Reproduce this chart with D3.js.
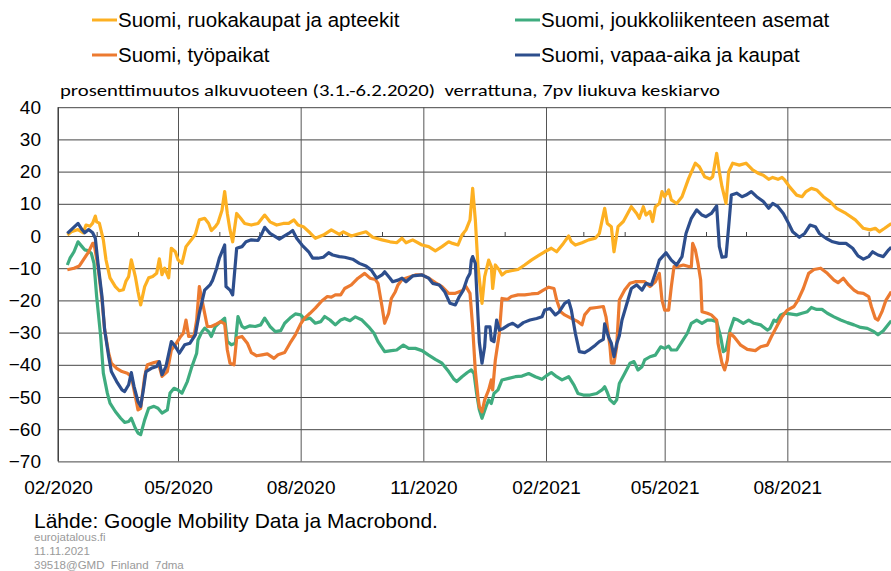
<!DOCTYPE html>
<html>
<head>
<meta charset="utf-8">
<script src="https://cdn.jsdelivr.net/npm/d3@7"></script>
<style>
  body { margin: 0; background: #fff; }
  svg { display: block; font-family: "Liberation Sans", Arial, sans-serif; }
</style>
</head>
<body>
<svg id="chart" width="891" height="571"></svg>
<script>
// päivät laskettu 1.2.2020 alkaen, arvot % muutos
const startDate = new Date(Date.UTC(2020, 1, 1))
const endDate = new Date(Date.UTC(2021, 10, 1))

const seriesNames = [
  'Suomi, ruokakaupat ja apteekit',
  'Suomi, joukkoliikenteen asemat',
  'Suomi, työpaikat',
  'Suomi, vapaa-aika ja kaupat'
]
const seriesColors = ['#FDB022', '#3FAC7F', '#EC7A30', '#2D4E8D']

const groceries = [[7,0.3],[10,1.3],[15,2],[19,1],[21,3.4],[24,3],[26,4],[28,6.2],[29,4.4],[31,4],[34,-1.2],[36,-7.4],[39,-13],[43,-15.7],[46,-17],[49,-16.7],[51,-14],[53,-12.6],[55,-7.4],[58,-12.6],[60,-17.3],[62,-21.4],[65,-15.7],[68,-13],[71,-12.6],[74,-11.6],[76,-7.1],[78,-12],[80,-10],[83,-13],[85,-3.8],[88,-4.9],[90,-7.4],[93,-8.5],[96,-3.3],[100,-1.2],[103,0.5],[106,5],[110,5.5],[113,3.9],[115,1.7],[118,2.9],[120,4.1],[123,8],[125,13.8],[127,7],[129,1.9],[131,-1.8],[134,7],[137,5.5],[140,3.9],[145,3.4],[150,3.9],[155,6.5],[159,4.4],[164,3.4],[169,3.9],[173,3.9],[177,5],[180,3.4],[184,2.9],[189,1],[193,-0.7],[199,0.3],[205,1.9],[211,0.5],[214,1.3],[220,0],[225,0.6],[231,1.3],[236,-0.4],[243,-1.2],[249,-1.8],[254,-2.1],[258,-0.7],[261,-2.1],[266,-1.2],[273,-2.8],[278,-3.3],[283,-4.6],[288,-3.3],[293,-1.8],[296,-2.3],[300,-2.8],[303,0.3],[306,1.9],[309,5],[311,14.8],[313,5],[315,-9.5],[318,-20.9],[320,-12.6],[323,-7.5],[325,-9.5],[326,-16.3],[328,-9],[331,-10.6],[333,-12.1],[336,-11.1],[340,-10.8],[345,-10.4],[350,-9],[355,-7.5],[360,-6.2],[365,-4.9],[370,-3.8],[374,-4.9],[379,-2.3],[383,0],[385,-1.8],[388,-2.8],[393,-2.1],[398,-1.2],[403,-0.7],[406,0.8],[410,8.6],[412,3.9],[415,2.9],[417,-4.9],[420,2.9],[424,4.5],[430,9.1],[434,7],[436,5.5],[439,9.1],[441,6.5],[444,7.6],[446,4.5],[448,9.1],[451,10.1],[453,13.8],[455,12.2],[458,14.3],[460,11.2],[464,10.1],[468,12.2],[473,17.9],[478,22.6],[481,21.5],[485,18.4],[489,17.7],[491,18.4],[494,25.7],[496,20],[498,15.3],[501,10.1],[503,20],[506,22.6],[511,22],[516,22.6],[521,20.5],[525,19.5],[529,18.9],[533,17.6],[536,18.2],[540,17.6],[543,18.2],[545,17.4],[549,15.1],[554,12.7],[558,12.2],[561,13.8],[565,14.8],[569,14.3],[574,12.2],[579,10.7],[584,8.6],[591,7],[598,5],[604,2.4],[609,1.9],[613,2.4],[616,1.3],[620,2.4],[625,3.9]]

const transit = [[7,-9],[9,-6.9],[12,-4.9],[15,-1.8],[18,-3.3],[20,-4.3],[23,-4.6],[25,-5.4],[27,-8.5],[29,-18.8],[32,-31.2],[34,-42.6],[37,-48.8],[39,-51.9],[43,-54.5],[47,-56.6],[50,-57.9],[53,-57.6],[55,-56.6],[58,-59.7],[60,-61.2],[62,-61.7],[65,-57.1],[68,-53.5],[72,-52.9],[75,-53.5],[78,-55],[82,-54],[84,-48.8],[87,-47.3],[90,-47.8],[93,-48.8],[97,-45.2],[100,-41.1],[104,-36.4],[105,-32.3],[108,-29.7],[110,-28.6],[113,-29.7],[115,-31.2],[118,-28.1],[122,-26.6],[125,-25.5],[127,-32.8],[130,-33.8],[133,-33.3],[135,-25],[138,-28.1],[140,-28.6],[144,-27.9],[148,-28.1],[152,-27.6],[155,-25.5],[159,-28.1],[163,-29.7],[167,-29.4],[170,-27.1],[174,-25.5],[178,-24.2],[182,-24.5],[185,-25.9],[189,-25.5],[193,-27.1],[197,-26.6],[200,-25],[204,-26.1],[208,-27.6],[212,-26.1],[215,-25.6],[219,-26.3],[223,-25.1],[228,-26.1],[233,-28.2],[237,-30.2],[240,-32.8],[245,-35.9],[250,-35.6],[254,-35.4],[259,-33.9],[263,-34.9],[268,-34.9],[273,-35.6],[278,-37],[283,-38.3],[288,-39.5],[293,-42.1],[297,-44.5],[299,-45.2],[303,-43.7],[307,-42.4],[310,-41.6],[312,-42.7],[314,-49],[316,-54],[318,-56.6],[321,-53],[323,-50.9],[325,-52],[327,-48.9],[330,-47.8],[333,-44.7],[338,-44.2],[343,-43.7],[348,-43.5],[353,-42.7],[358,-43.7],[363,-44.5],[367,-43.2],[370,-42.4],[374,-43.7],[378,-44.7],[383,-43.7],[387,-46.3],[390,-48.9],[394,-49.4],[399,-49.4],[404,-48.9],[408,-47.8],[410,-46.8],[412,-48.6],[414,-50.9],[417,-52],[419,-50.9],[421,-45.8],[425,-42.7],[429,-39.5],[432,-39],[435,-41.6],[438,-40.6],[440,-38.5],[444,-37.5],[448,-37],[452,-34.4],[455,-34.9],[458,-34.2],[460,-35.4],[464,-35.4],[468,-32.8],[472,-30.2],[475,-27.1],[479,-26.1],[483,-27.1],[487,-26.1],[490,-26.1],[494,-26.6],[497,-31.3],[499,-35.9],[501,-35.4],[504,-29.2],[507,-25.6],[510,-26.1],[514,-27.1],[518,-26.1],[522,-27.1],[527,-27.6],[532,-29.2],[534,-28.7],[537,-26.1],[539,-26.6],[542,-24.5],[545,-24],[549,-24.2],[554,-24.5],[558,-24],[562,-23.5],[565,-22.2],[569,-22.8],[573,-22.8],[577,-24],[582,-25.1],[587,-26.1],[592,-26.9],[597,-27.6],[602,-28.4],[607,-28.7],[612,-29.7],[615,-30.7],[619,-29.4],[623,-27.3],[625,-26.3]]

const workplaces = [[7,-10.5],[12,-10],[16,-9.3],[19,-7.4],[23,-4.9],[26,-2.3],[27,-2.3],[30,-9.5],[33,-19.9],[35,-29.2],[38,-36.4],[40,-39.5],[44,-41.1],[48,-42.1],[52,-42.6],[55,-43.6],[58,-49.8],[60,-54],[62,-53.5],[65,-43.6],[67,-40],[72,-39.3],[75,-39],[78,-43.6],[82,-42.1],[85,-35.4],[88,-33.8],[92,-31.2],[94,-30.2],[96,-26.1],[98,-31.2],[102,-31.2],[104,-26.1],[106,-15.7],[108,-19.9],[110,-24],[112,-28.1],[115,-28.1],[119,-27.3],[122,-26.6],[125,-27.3],[127,-35.4],[129,-39.5],[132,-40],[134,-31.7],[138,-31.2],[142,-33.3],[145,-36.2],[149,-37.2],[153,-36.9],[157,-36.6],[162,-38],[165,-36.9],[170,-36.2],[174,-33.3],[178,-30.7],[182,-27.3],[185,-25.5],[189,-24],[193,-22.4],[198,-20.1],[202,-18.8],[205,-19],[208,-18.3],[212,-18.3],[215,-16.3],[220,-15.2],[225,-13.1],[230,-11.6],[234,-13.1],[238,-13.5],[240,-14.7],[243,-21.9],[245,-27.1],[248,-24],[250,-19.4],[253,-17.3],[255,-15.2],[258,-13.5],[263,-12.8],[268,-12.1],[273,-12.1],[278,-13.1],[283,-14.5],[288,-15.7],[293,-17.8],[298,-17.8],[303,-17],[306,-15.7],[309,-17.8],[311,-28.2],[313,-42],[315,-50],[316,-53],[318,-54.6],[320,-50.9],[323,-47.8],[325,-44.7],[326,-47.8],[328,-38.5],[331,-30.2],[333,-19.4],[337,-19.7],[340,-18.8],[345,-18.3],[350,-18.3],[355,-18],[360,-17.8],[364,-16.8],[368,-15.9],[372,-16.3],[374,-19.9],[377,-23.5],[380,-24.5],[385,-25.6],[390,-26.6],[393,-27.6],[395,-24.5],[399,-22.5],[404,-22.2],[409,-21.9],[411,-25.1],[414,-34.4],[415,-39.5],[417,-39.5],[419,-34.4],[421,-19.9],[425,-16.8],[429,-14.7],[433,-14.2],[437,-14.2],[440,-14.2],[444,-15.7],[448,-14.2],[451,-11.6],[453,-19.9],[455,-23],[458,-23],[460,-15.7],[462,-9.5],[465,-9.5],[469,-9],[473,-9.5],[475,-9.5],[476,-2.3],[478,-4.3],[480,-8.5],[482,-13.7],[483,-23.5],[487,-24],[490,-24.5],[494,-26.1],[495,-33.3],[498,-39.5],[500,-41.6],[502,-38.5],[504,-30.2],[507,-31.3],[512,-33.9],[517,-35.2],[523,-35.6],[527,-34.4],[532,-33.9],[535,-31.3],[539,-28.2],[543,-25.1],[547,-23],[552,-21.9],[555,-19.9],[559,-16.3],[563,-11.6],[567,-10.4],[572,-10],[577,-11.6],[582,-13.7],[585,-14.5],[589,-13.1],[593,-15.2],[597,-16.8],[600,-17.6],[604,-17.8],[608,-18.8],[610,-21.9],[613,-25.6],[615,-26.1],[618,-23.5],[621,-19.9],[625,-17.3]]

const leisure = [[7,0.8],[10,2],[15,3.9],[18,2],[20,1],[23,2],[26,1],[28,-0.7],[30,-8.5],[33,-18.8],[35,-29.2],[38,-37.4],[40,-42.1],[44,-45.2],[48,-47.8],[50,-48.3],[53,-46.2],[55,-42.4],[57,-46.7],[60,-51.4],[62,-52.9],[64,-47.8],[66,-42.1],[70,-41.1],[74,-40.5],[76,-39],[78,-43.1],[81,-40.5],[85,-32.8],[88,-34.3],[91,-36.4],[95,-33.8],[99,-33.3],[103,-30.7],[106,-24],[110,-16.8],[114,-15.2],[116,-13.7],[119,-10],[121,-6.9],[125,-2.8],[126,-15.7],[129,-16.8],[131,-18.3],[134,-3.8],[138,-3.3],[141,-1.8],[145,-1.2],[150,-1.4],[153,0.8],[155,2.7],[159,0.8],[163,-0.2],[166,-1],[169,-0.2],[173,0.8],[176,1.7],[179,-0.7],[183,-2.8],[188,-4.9],[191,-6.9],[195,-6.9],[199,-6.6],[203,-5.2],[206,-5.9],[211,-6.4],[215,-6.6],[221,-7.2],[226,-8.5],[231,-9.3],[235,-10.6],[239,-13.1],[243,-12.1],[245,-11.1],[249,-13.1],[251,-14.2],[255,-13.7],[258,-13.1],[261,-14.2],[266,-12.4],[273,-12.1],[278,-13.1],[281,-14.7],[286,-15.2],[290,-17.3],[294,-20.9],[298,-21.4],[301,-18.8],[304,-16.8],[307,-13.1],[309,-11.6],[310,-7.5],[311,-6.4],[313,-8.5],[315,-25],[316,-33],[318,-39.5],[320,-34.4],[321,-28.2],[324,-28.2],[325,-32.3],[327,-32.8],[329,-26.1],[331,-29.2],[334,-28.7],[338,-27.6],[341,-27.1],[345,-28.2],[349,-26.9],[354,-26.1],[359,-25.6],[363,-25.1],[365,-23],[369,-22.5],[373,-24.5],[376,-23.5],[380,-20.9],[383,-20.1],[385,-23],[388,-30.2],[391,-35.9],[395,-36.2],[399,-35.2],[403,-33.9],[406,-32.8],[409,-32.1],[410,-27.3],[413,-31.5],[415,-33.3],[417,-37.5],[419,-33.5],[421,-31],[423,-26.1],[426,-21.9],[430,-16.3],[434,-15.2],[438,-16.8],[441,-14.7],[445,-15.2],[448,-11.6],[451,-7.5],[456,-5.2],[460,-7.5],[464,-9],[468,-6.4],[471,0.8],[475,5.5],[479,8.1],[483,6.5],[486,6],[490,7],[494,9.3],[496,-3.3],[498,-6.6],[501,-6.4],[503,2.9],[505,12.7],[509,13.3],[513,12.2],[516,12.7],[520,13.8],[524,12.2],[529,10.7],[533,8.6],[536,10.1],[540,9.1],[544,7],[548,3.9],[551,1.3],[556,-0.4],[560,0.8],[564,3.4],[568,2.9],[571,0.8],[576,-0.7],[581,-1.8],[586,-2.3],[591,-2.3],[596,-3.8],[600,-6.2],[604,-7.2],[608,-6.4],[611,-4.9],[615,-5.9],[619,-6.4],[623,-4.3],[625,-3.5]]

const yTicks = [40, 30, 20, 10, 0, -10, -20, -30, -40, -50, -60, -70]
const subtitle = 'prosenttimuutos alkuvuoteen (3.1.-6.2.2020)  verrattuna, 7pv liukuva keskiarvo'
const sourceText = 'Lähde: Google Mobility Data ja Macrobond.'
const footLines = ['eurojatalous.fi', '11.11.2021', '39518@GMD  Finland  7dma']

const svg = d3.select('#chart')
const plotLeft = 58, plotRight = 891, plotTop = 107.2, plotBottom = 461.4
const pxPerDay = 4 / 3

const x = d3.scaleUtc()
  .domain([startDate, endDate])
  .range([plotLeft, plotLeft + d3.utcDay.count(startDate, endDate) * pxPerDay])
const y = d3.scaleLinear().domain([-70, 40]).range([plotBottom, plotTop])

const quarters = d3.utcMonth.range(startDate, endDate, 3)
const months = d3.utcMonth.range(startDate, endDate).filter(d => !quarters.some(q => +q === +d))

// vaakaviivat + y-akselin luvut
svg.append('g')
  .attr('transform', `translate(${plotLeft},0)`)
  .call(d3.axisLeft(y).tickValues(yTicks).tickSize(-(plotRight - plotLeft)).tickPadding(17).tickFormat(d3.format('d')))
  .call(g => g.select('.domain').remove())
  .call(g => g.selectAll('line').attr('stroke', '#454545').attr('stroke-width', 1))
  .call(g => g.selectAll('text').attr('fill', '#000').style('font-size', '19px').style('font-family', '"Liberation Sans", Arial, sans-serif'))

// pystyviivat kvartaaleittain
svg.append('g')
  .attr('transform', `translate(0,${plotBottom})`)
  .call(d3.axisBottom(x).tickValues(quarters).tickSize(-(plotBottom - plotTop)).tickPadding(19.5).tickFormat(d3.utcFormat('%m/%Y')))
  .call(g => g.select('.domain').remove())
  .call(g => g.selectAll('line').attr('stroke', '#555').attr('stroke-width', 1))
  .call(g => g.selectAll('text').attr('fill', '#000').style('font-size', '19px').style('font-family', '"Liberation Sans", Arial, sans-serif'))

// kuukausitikit nollaviivalla
svg.append('g')
  .attr('transform', `translate(0,${y(0)})`)
  .call(d3.axisTop(x).tickValues(months).tickSize(4).tickFormat(''))
  .call(g => g.select('.domain').remove())
  .call(g => g.selectAll('line').attr('stroke', '#444'))

svg.append('line')
  .attr('x1', plotLeft).attr('x2', plotLeft).attr('y1', plotTop).attr('y2', plotBottom)
  .attr('stroke', '#333').attr('stroke-width', 1)

svg.append('clipPath').attr('id', 'plotclip')
  .append('rect').attr('x', plotLeft).attr('y', 0).attr('width', plotRight - plotLeft).attr('height', 571)

const line = d3.line()
  .x(d => x(d3.utcDay.offset(startDate, d[0])))
  .y(d => y(d[1]))

const allSeries = [groceries, transit, workplaces, leisure]
svg.append('g').attr('clip-path', 'url(#plotclip)')
  .selectAll('path')
  .data(allSeries)
  .enter()
  .append('path')
  .attr('d', d => line(d))
  .attr('fill', 'none')
  .attr('stroke', (d, i) => seriesColors[i])
  .attr('stroke-width', 3.2)
  .attr('stroke-linejoin', 'round')

// selite
const legendPos = [[92, 20], [515, 20], [92, 55], [515, 55]]
const legend = svg.append('g').selectAll('g')
  .data(seriesNames)
  .enter()
  .append('g')
  .attr('transform', (d, i) => `translate(${legendPos[i][0]},${legendPos[i][1]})`)
legend.append('line')
  .attr('x1', 0).attr('x2', 25).attr('y1', 0).attr('y2', 0)
  .attr('stroke', (d, i) => seriesColors[i]).attr('stroke-width', 3)
legend.append('text')
  .attr('x', 26).attr('y', 7)
  .style('font-size', '20.5px')
  .text(d => d)

svg.append('text')
  .attr('x', 60).attr('y', 96)
  .attr('textLength', 660).attr('lengthAdjust', 'spacingAndGlyphs')
  .style('white-space', 'pre')
  .style('font-family', 'Carlito, "Liberation Sans Narrow", "Liberation Sans", Arial, sans-serif')
  .style('font-size', '16px')
  .text(subtitle)

svg.append('text')
  .attr('x', 34).attr('y', 528)
  .style('font-size', '21px')
  .text(sourceText)

svg.append('g').selectAll('text')
  .data(footLines)
  .enter()
  .append('text')
  .attr('x', 34)
  .attr('y', (d, i) => 541 + i * 14)
  .style('white-space', 'pre')
  .style('font-size', '11.5px')
  .attr('fill', '#9a9a9a')
  .text(d => d)
</script>
</body>
</html>
